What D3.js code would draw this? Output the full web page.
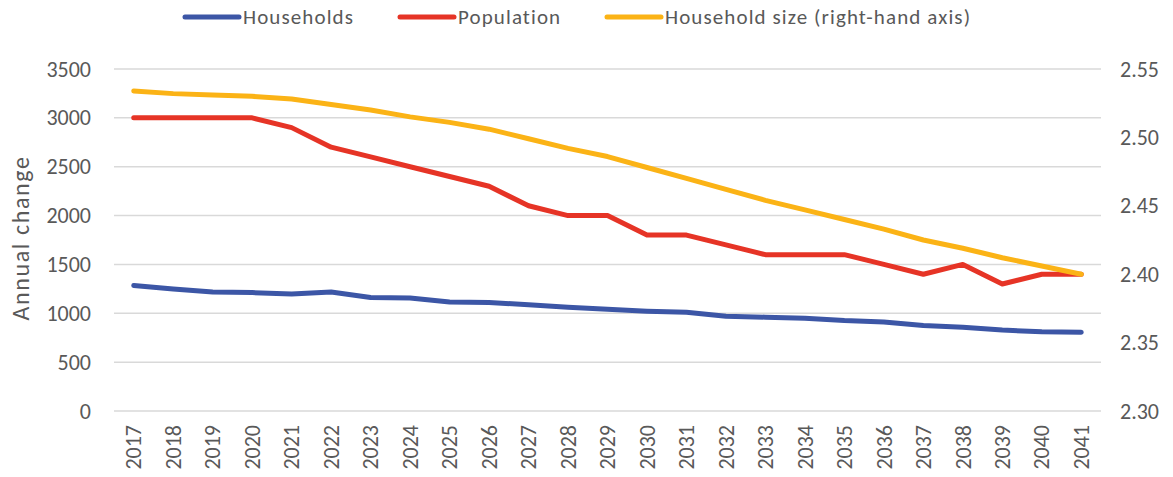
<!doctype html>
<html lang="en">
<head>
<meta charset="UTF-8">
<title>Households, population and household size</title>
<script src="https://d3js.org/d3.v7.min.js"></script>
<style>
  body { margin: 0; background: #fff; }
  svg text { font-family: Carlito, Lato, "Open Sans", sans-serif; fill: #595959; }
</style>
</head>
<body>
<svg id="chart" width="1173" height="477"></svg>
<script>
// ---- data ----
const years = ["2017","2018","2019","2020","2021","2022","2023","2024","2025","2026","2027","2028","2029",
               "2030","2031","2032","2033","2034","2035","2036","2037","2038","2039","2040","2041"];
const households = [1285,1248,1218,1212,1198,1218,1162,1156,1115,1110,1087,1063,1042,
                    1022,1010,970,960,950,925,912,876,857,828,811,806];
const population = [3000,3000,3000,3000,2900,2700,2600,2500,2400,2300,2100,2000,2000,
                    1800,1800,1700,1600,1600,1600,1500,1400,1500,1300,1400,1400];
const householdSize = [2.534,2.532,2.531,2.530,2.528,2.524,2.520,2.515,2.511,2.506,2.499,2.492,2.486,
                       2.478,2.470,2.462,2.454,2.447,2.440,2.433,2.425,2.419,2.412,2.406,2.400];
const leftTicks = [0,500,1000,1500,2000,2500,3000,3500];
const rightTicks = [2.30,2.35,2.40,2.45,2.50,2.55];

const BLUE = "#3c56a6", RED = "#e63426", YELLOW = "#fbb316";

// ---- layout ----
const svg = d3.select("#chart");
const plotLeft = 114, plotRight = 1101, plotTop = 69, plotBottom = 411;

const x = d3.scaleBand().domain(years).range([plotLeft, plotRight]);
const yL = d3.scaleLinear().domain([0, 3500]).range([plotBottom, plotTop]);
const yR = d3.scaleLinear().domain([2.30, 2.55]).range([plotBottom, plotTop]);

// gridlines
svg.append("g").selectAll("line").data(leftTicks).enter().append("line")
  .attr("x1", plotLeft).attr("x2", plotRight)
  .attr("y1", d => yL(d)).attr("y2", d => yL(d))
  .style("stroke", "#d9d9d9").style("stroke-width", 1.5);

// left axis
const axL = svg.append("g").attr("transform", `translate(${plotLeft},0)`)
  .call(d3.axisLeft(yL).tickValues(leftTicks).tickSize(0).tickPadding(23).tickFormat(d3.format("d")));
axL.select(".domain").remove();
axL.selectAll("text").style("font-size", "22px");

// right axis
const axR = svg.append("g").attr("transform", `translate(${plotRight},0)`)
  .call(d3.axisRight(yR).tickValues(rightTicks).tickSize(0).tickPadding(19).tickFormat(d3.format(".2f")));
axR.select(".domain").remove();
axR.selectAll("text").style("font-size", "22px");

// x axis
const axX = svg.append("g").attr("transform", `translate(0,${plotBottom})`)
  .call(d3.axisBottom(x).tickSize(0).tickPadding(0));
axX.select(".domain").remove();
axX.selectAll("text")
  .style("font-size", "22px")
  .attr("transform", "rotate(-90)")
  .attr("text-anchor", "end")
  .attr("dy", "0.35em")
  .attr("x", -14).attr("y", 0);

// y title
svg.append("text")
  .attr("transform", `translate(29,${(plotTop + plotBottom) / 2 - 2}) rotate(-90)`)
  .attr("text-anchor", "middle")
  .style("font-size", "24px")
  .style("letter-spacing", "1.6px")
  .text("Annual change");

// lines
const cx = d => x(d) + x.bandwidth() / 2;
const lineL = d3.line().x((d, i) => cx(years[i])).y(d => yL(d));
const lineR = d3.line().x((d, i) => cx(years[i])).y(d => yR(d));

[[households, lineL, BLUE], [population, lineL, RED], [householdSize, lineR, YELLOW]].forEach(s => {
  svg.append("path").attr("d", s[1](s[0]))
    .style("fill", "none").style("stroke", s[2]).style("stroke-width", 5)
    .style("stroke-linecap", "round").style("stroke-linejoin", "round");
});

// legend
const legend = [
  {name: "Households", color: BLUE, x: 185},
  {name: "Population", color: RED, x: 400},
  {name: "Household size (right-hand axis)", color: YELLOW, x: 607}
];
const lg = svg.append("g").selectAll("g").data(legend).enter().append("g")
  .attr("transform", d => `translate(${d.x},17)`);
lg.append("line").attr("x1", 0).attr("x2", 54).attr("y1", 0).attr("y2", 0)
  .style("stroke", d => d.color).style("stroke-width", 5).style("stroke-linecap", "round");
lg.append("text").attr("x", 58).attr("dy", "0.35em")
  .style("font-size", "21px").style("letter-spacing", "1.1px").text(d => d.name);
</script>
</body>
</html>
